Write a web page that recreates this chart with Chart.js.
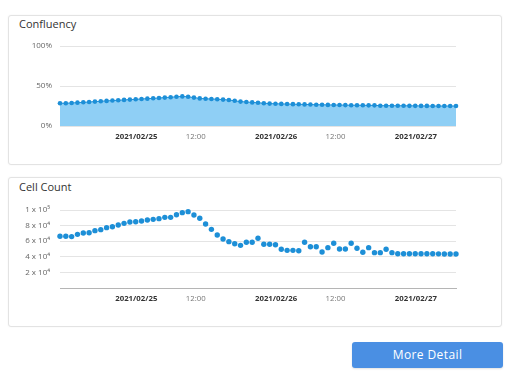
<!DOCTYPE html>
<html><head><meta charset="utf-8">
<script src="https://cdn.jsdelivr.net/npm/chart.js@4.4.0/dist/chart.umd.min.js"></script>
<style>
html,body{margin:0;padding:0;background:#fff;width:510px;height:383px;overflow:hidden;font-family:"Open Sans",sans-serif;}
.card{position:absolute;left:8px;width:492px;height:148px;border:1px solid #e3e3e3;border-radius:3px;background:#fff;box-shadow:0 0 2px rgba(0,0,0,0.05);}
.title{position:absolute;left:19px;font-size:11px;line-height:11px;color:#333;white-space:nowrap;}
canvas{position:absolute;left:8px;}
.btn{position:absolute;left:352px;top:342px;width:151px;height:26px;line-height:26px;background:#4a8fe3;border-radius:3px;color:#fff;font-size:12px;text-align:center;letter-spacing:0.4px;box-shadow:0 1px 2px rgba(0,0,0,0.12);}
</style></head>
<body>
<div class="card" style="top:15px"></div>
<div class="card" style="top:177px"></div>
<div class="title" style="top:18px">Confluency</div>
<div class="title" style="top:181px">Cell Count</div>
<canvas id="c1" width="494" height="150" style="top:15px"></canvas>
<canvas id="c2" width="494" height="150" style="top:177px"></canvas>
<div class="btn">More Detail</div>
<script>
// hourly samples (index = hours since start of run)
const confluency = [28.5,28.5,28.8,29.2,29.6,30,30.5,31,31.4,31.8,32.2,32.6,33,33.4,33.8,34.2,34.6,35,35.5,36,36.5,37,36.5,35.5,34.5,34,33.8,33.5,33,32.5,31.5,30.5,30,29.5,29,28.5,28,27.8,27.6,27.5,27.3,27.1,27,26.8,26.6,26.5,26.4,26.3,26.2,26.1,26,26,25.9,25.8,25.8,25.4,25.4,25.4,25.3,25.3,25.2,25.2,25.1,25.1,25,25,25,25,25];
const cellCount = [66300,66300,65900,68800,70500,70900,73500,74800,77400,78600,80800,82900,84600,85000,85900,87200,88000,88900,90600,90600,94000,96600,97900,93600,89400,82000,75200,68000,62800,59400,56800,54700,58600,58600,63700,56000,56000,55500,49600,48300,48300,47800,58600,52900,52900,46200,51700,57300,50000,50000,57300,50900,45800,51700,45300,45300,49600,45300,44000,44000,44000,44000,44000,44000,44000,43800,43600,43600,43600];
const xTickHours = [13.1, 23.3, 37.1, 47.3, 61.1];
const xTickLabels = ['2021/02/25','12:00','2021/02/26','12:00','2021/02/27'];
const confTickValues = [0,50,100];
const confTickLabels = ['0%','50%','100%'];
const countTickValues = [0,20000,40000,60000,80000,100000];
const countTickLabels = ['','2 x 10\u2074','4 x 10\u2074','6 x 10\u2074','8 x 10\u2074','1 x 10\u2075'];

const FONT = 'Open Sans';
const DOT = '#1d8fd7';

function xAxis(borderShow){
  return {
    type:'linear', min:0, max:confluency.length-1,
    afterBuildTicks: s => { s.ticks = xTickHours.map(v=>({value:v})); },
    afterFit: s => { s.height = 39; },
    grid:{display:false, drawTicks:false},
    border:{display:borderShow, color:'#b5b5b5', width:1},
    ticks:{autoSkip:false, maxRotation:0, padding:6,
      callback:(v,i)=>xTickLabels[i],
      color: ctx => (xTickLabels[ctx.index]||'').includes('/') ? '#333' : '#777',
      font: ctx => ({family:FONT, size:7.8, weight: (xTickLabels[ctx.index]||'').includes('/') ? 'bold' : 'normal'})
    }
  };
}
function yAxis(vals, labels, max, pad){
  return {
    min:0, max:max,
    afterBuildTicks: s => { s.ticks = vals.map(v=>({value:v})); },
    afterFit: s => { s.width = 52; },
    grid:{color:'#e4e4e4', drawTicks:false, lineWidth:1},
    border:{display:false},
    ticks:{padding:pad, color:'#666', font:{family:FONT, size:8},
      callback:(v,i)=>labels[i]}
  };
}
const common = {
  responsive:false, animation:false,
  plugins:{legend:{display:false}, tooltip:{enabled:false}},
};

new Chart(document.getElementById('c1'), {
  type:'line',
  data:{datasets:[{
    data: confluency.map((v,i)=>({x:i,y:v})),
    fill:'origin', backgroundColor:'#8fcff5', borderColor:DOT, borderWidth:1,
    pointRadius:2.3, pointBackgroundColor:DOT, pointBorderWidth:0, tension:0, clip:false
  }]},
  options:Object.assign({}, common, {
    layout:{padding:{top:31, right:46, left:0, bottom:0}},
    scales:{x:xAxis(false), y:yAxis(confTickValues, confTickLabels, 100, 8)}
  })
});

new Chart(document.getElementById('c2'), {
  type:'line',
  data:{datasets:[{
    data: cellCount.map((v,i)=>({x:i,y:v})),
    showLine:false, pointRadius:2.7, pointBackgroundColor:DOT, pointBorderWidth:0, clip:false
  }]},
  options:Object.assign({}, common, {
    layout:{padding:{top:33, right:46, left:0, bottom:0}},
    scales:{x:xAxis(true), y:yAxis(countTickValues, countTickLabels, 100000, 10)}
  })
});
</script>
</body></html>
